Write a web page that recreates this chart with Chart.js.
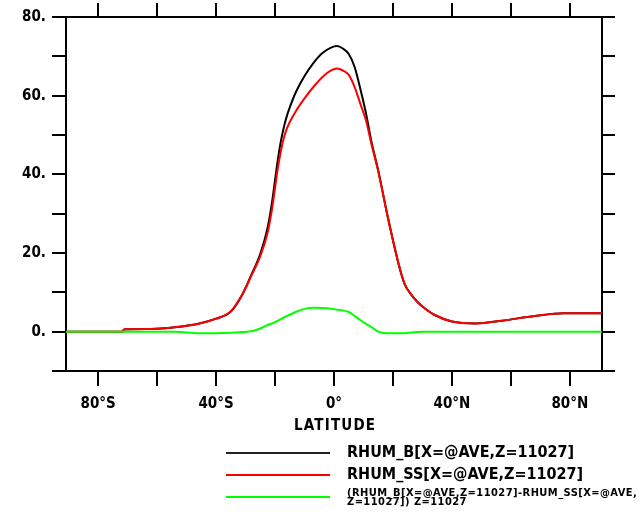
<!DOCTYPE html>
<html>
<head>
<meta charset="utf-8">
<script src="https://cdn.jsdelivr.net/npm/chart.js@4.4.1/dist/chart.umd.min.js"></script>
<style>
  html, body { margin: 0; padding: 0; background: #fff; overflow: hidden; }
  #wrap { position: relative; width: 640px; height: 512px; overflow: hidden; }
  canvas { position: absolute; left: 0; top: 0; }
  .txt { position: absolute; font-family: "DejaVu Sans Condensed", "DejaVu Sans", sans-serif; font-weight: bold; color: #000; white-space: nowrap; line-height: 1; }
  .key { position: absolute; height: 2px; }
</style>
</head>
<body>
<div id="wrap">
  <canvas id="c" width="640" height="512"></canvas>
  <div class="txt" id="xtitle" style="left:294px; top:418px; font-size:15px; letter-spacing:1.2px;">LATITUDE</div>

  <div class="key" style="left:226px; top:452px; width:104px; background:#222;"></div>
  <div class="txt" style="left:347px; top:444px; font-size:16px;">RHUM_B[X=@AVE,Z=11027]</div>

  <div class="key" style="left:226px; top:474px; width:104px; background:#ff0000;"></div>
  <div class="txt" style="left:347px; top:466px; font-size:16px;">RHUM_SS[X=@AVE,Z=11027]</div>

  <div class="key" style="left:226px; top:496px; width:104px; background:#00ff00;"></div>
  <div class="txt" style="left:347px; top:488px; font-size:11px; line-height:9px; letter-spacing:0.45px;">(RHUM_B[X=@AVE,Z=11027]-RHUM_SS[X=@AVE,<br>Z=11027]) Z=11027</div>
</div>
<script>
// Zonal-mean relative humidity by latitude
const latitude = [-90.9, -72, -71, -62, -54, -46, -40, -35, -31, -28, -25, -22.5, -21, -20, -19, -18, -17, -16, -15, -13, -10, -7, -4, -1,
                  1, 3, 5, 7, 9, 11, 12.5, 15, 18, 21, 22.5, 24, 26, 28, 30, 34, 40, 48, 57, 68, 78, 90.9];
const rhumB    = [0, 0, 0.6, 0.7, 1.1, 2.0, 3.3, 5.1, 9.6, 14.5, 19.8, 26.5, 33, 38.5, 44, 48.5, 52, 54.8, 57, 60.8, 65, 68.3, 70.8, 72.2,
                  72.6, 72.0, 70.6, 67.3, 61.5, 55, 49, 41, 30, 20, 15.5, 12, 9.6, 7.8, 6.4, 4.3, 2.6, 2.1, 2.8, 4.0, 4.7, 4.7];
const rhumSS   = [0, 0, 0.6, 0.7, 1.1, 2.0, 3.3, 5.2, 9.6, 14.3, 19.2, 25.2, 31.3, 36.5, 41.8, 46, 49.3, 51.6, 53.3, 56, 59.3, 62.2, 64.7, 66.4,
                  66.9, 66.4, 65.3, 62.2, 57.8, 53.3, 48.3, 40.8, 30, 20, 15.6, 12.1, 9.6, 7.8, 6.4, 4.3, 2.6, 2.1, 2.8, 4.0, 4.7, 4.7];
const rhumDiff = [0, 0, 0, 0, 0, -0.4, -0.4, -0.3, -0.1, 0.1, 0.8, 1.7, 2.1, 2.4, 2.8, 3.2, 3.6, 4.0, 4.3, 5.0, 5.8, 6.1, 6.0, 5.8,
                  5.6, 5.4, 5.0, 4.0, 2.9, 1.9, 1.3, 0.0, -0.4, -0.4, -0.4, -0.4, -0.2, -0.1, 0, 0, 0, 0, 0, 0, 0, 0];

// Axis ticks and their labels
const xTickValues = [-80, -60, -40, -20, 0, 20, 40, 60, 80];
const xTickLabels = { '-80': '80°S', '-40': '40°S', '0': '0°', '40': '40°N', '80': '80°N' };
const yTickValues = [-10, 0, 10, 20, 30, 40, 50, 60, 70, 80];
const yTickLabels = { '0': '0.', '20': '20.', '40': '40.', '60': '60.', '80': '80.' };
const xRange = [-90.9, 90.9];
const yRange = [-10, 80];

const pts = (ys) => latitude.map((x, i) => ({ x: x, y: ys[i] }));
const tickFont = { family: '"DejaVu Sans Condensed", "DejaVu Sans", sans-serif', size: 15, weight: 'bold' };

const axisGrid = (len) => ({ drawOnChartArea: false, drawTicks: true, tickLength: len, color: '#000', lineWidth: 2 });
const axisBorder = { display: true, color: '#000', width: 2 };

const setTicks = (values) => (scale) => { scale.ticks = values.map(v => ({ value: v })); };

new Chart(document.getElementById('c'), {
  type: 'line',
  data: {
    datasets: [
      { label: 'RHUM_B[X=@AVE,Z=11027]', data: pts(rhumB), borderColor: '#000000', borderWidth: 2, order: 3 },
      { label: 'RHUM_SS[X=@AVE,Z=11027]', data: pts(rhumSS), borderColor: '#ff0000', borderWidth: 2, order: 2 },
      { label: 'RHUM_B-RHUM_SS', data: pts(rhumDiff), borderColor: '#00ff00', borderWidth: 2, order: 1 }
    ]
  },
  options: {
    responsive: false,
    animation: false,
    devicePixelRatio: 1,
    layout: { padding: 0 },
    elements: { point: { radius: 0 }, line: { cubicInterpolationMode: 'monotone', fill: false } },
    plugins: { legend: { display: false }, tooltip: { enabled: false } },
    scales: {
      x: {
        type: 'linear', position: 'bottom', min: xRange[0], max: xRange[1],
        afterBuildTicks: setTicks(xTickValues),
        afterFit: (s) => { s.height = 141; },
        grid: axisGrid(15), border: axisBorder,
        ticks: { color: '#000', font: tickFont, padding: 9, maxRotation: 0, autoSkip: false,
                 callback: (v) => xTickLabels[String(v)] || '' }
      },
      x2: {
        type: 'linear', position: 'top', min: xRange[0], max: xRange[1],
        afterBuildTicks: setTicks(xTickValues),
        afterFit: (s) => { s.height = 17; },
        grid: axisGrid(14), border: axisBorder,
        ticks: { display: false }
      },
      y: {
        type: 'linear', position: 'left', min: yRange[0], max: yRange[1],
        afterBuildTicks: setTicks(yTickValues),
        afterFit: (s) => { s.width = 66; },
        grid: axisGrid(14), border: axisBorder,
        ticks: { color: '#000', font: tickFont, padding: 6, autoSkip: false,
                 callback: (v) => yTickLabels[String(v)] || '' }
      },
      y2: {
        type: 'linear', position: 'right', min: yRange[0], max: yRange[1],
        afterBuildTicks: setTicks(yTickValues),
        afterFit: (s) => { s.width = 38; },
        grid: axisGrid(13), border: axisBorder,
        ticks: { display: false }
      }
    }
  }
});
</script>
</body>
</html>
